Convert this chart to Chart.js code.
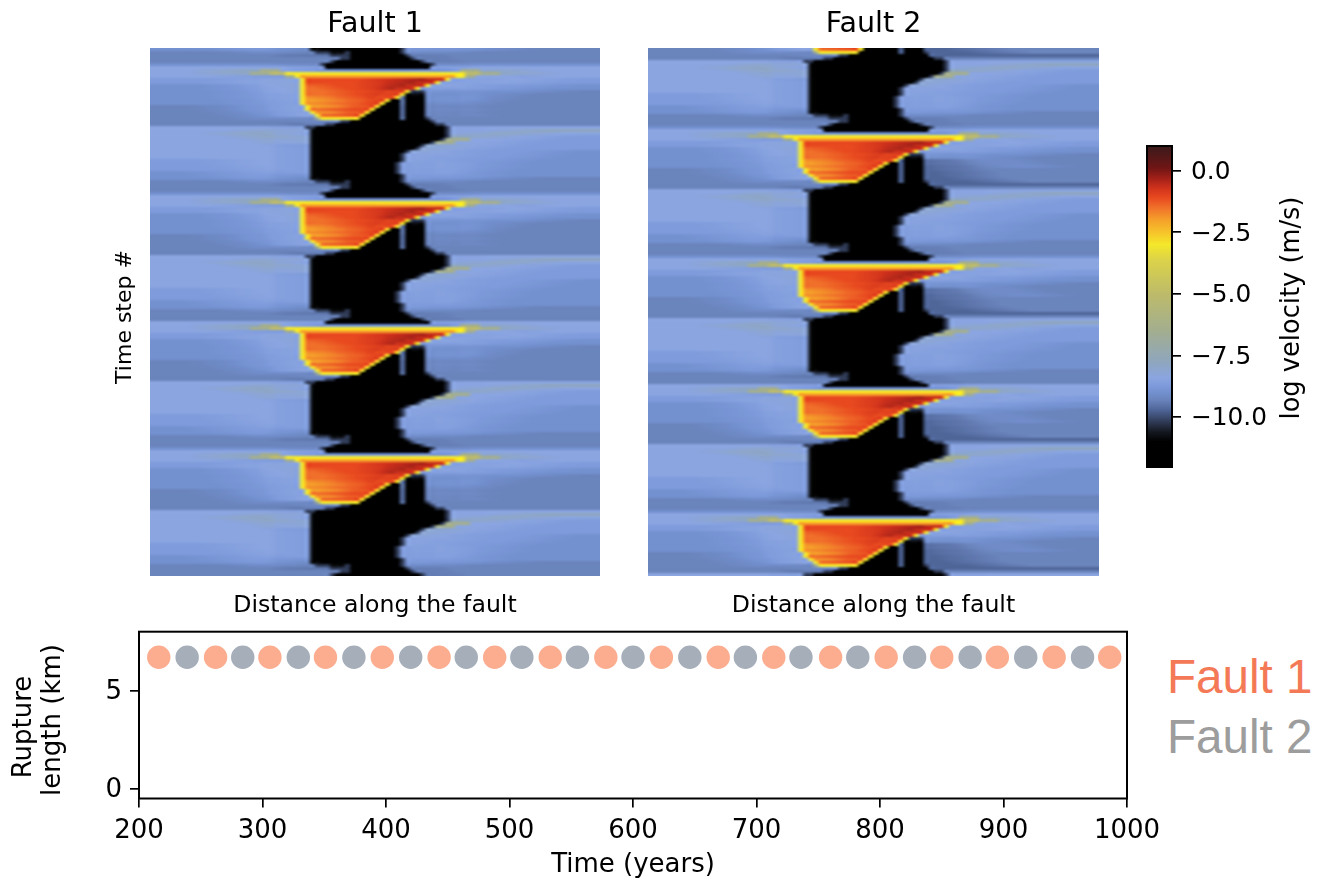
<!DOCTYPE html>
<html>
<head>
<meta charset="utf-8">
<title>Fault velocity</title>
<script src="https://cdn.jsdelivr.net/npm/chart.js@4"></script>
<style>
    body { margin: 0; background: #fff; width: 1320px; height: 881px; overflow: hidden; position: relative; }
    canvas { position: absolute; }
    .key { position: absolute; left: 1167px; font: 47.6px 'Liberation Sans'; line-height: 54px; }
</style>
</head>
<body>
<canvas id="fault1" style="left:112px;top:0" width="498" height="620"></canvas>
<canvas id="fault2" style="left:648px;top:0" width="460" height="620"></canvas>
<canvas id="colorbar" style="left:1130px;top:130px" width="190" height="350"></canvas>
<canvas id="rupture" style="left:0;top:620px" width="1165" height="261"></canvas>
<div class="key" style="top:650px;color:#f47a57">Fault 1</div>
<div class="key" style="top:710px;color:#9d9d9d">Fault 2</div>
<script>
// colour map
const colorbarValues = [-12.03, -11, -10.6, -10.2, -9.7, -9.3, -9, -8.7, -8.4, -7.8, -6.5, -5, -3.6, -3, -2.5, -2, -1.5, -1.1, -0.7, -0.3, 0.1, 1];
const colorbarColors = ['#000000', '#000000', '#14181f', '#2f3a55', '#4f6699', '#6a84bc', '#7390cf', '#7f9bdb', '#8aa5e0', '#8ea6bf', '#a3ae8f', '#bdbb6a', '#dcd348', '#f4e82a', '#f6c32a', '#f5a02a', '#f0702a', '#e8491f', '#cf321c', '#a02018', '#701515', '#3a1a1a'];
const colorbarTicks = [-10, -7.5, -5, -2.5, 0];

// log velocity levels used in the rows below
const levelCodes = ['B', 'K', 'N', 'D', 'c', 'b', 'a', 'l', 'g', 'h', 'p', 'y', 'o', 'f', 'r', 'e', 'd', 'm'];
const levelValues = [-11.6, -10.8, -10.2, -9.7, -9.3, -9, -8.7, -8.4, -7.8, -6.5, -5, -3, -2, -1.5, -1.1, -0.7, -0.3, 0.1];

// one earthquake cycle, one row per time step, each piece is level + end column
const cycleRows = [
    'l33 c35 B56 c58 l90',
    'l14 g22 h26 g29 a32 b58 a62 h66 g72 l90',
    'l14 g20 h24 p27 y63 p66 h70 g76 l90',
    'l18 a27 h29 y30 o61 y63 h65 g68 a74 l90',
    'a18 l26 a28 g30 y31 r45 e52 d58 o59 y60 g61 a66 l80 a90',
    'a16 l26 a28 g30 y31 r44 e50 d56 o57 y58 g59 a64 l76 a90',
    'b16 a22 l28 g30 y31 f34 r44 e49 d54 o55 y56 g57 l64 a80 b90',
    'b16 a24 l28 g30 y31 f36 r44 e48 d52 o53 y54 b56 l62 a74 b90',
    'b18 a24 l28 g30 y31 f38 r46 e50 o51 y52 N55 c57 a62 b80 c90',
    'b18 a26 l29 g30 y31 f38 r45 e49 o50 y51 K55 D56 b58 a60 b72 c90',
    'b18 a26 l29 g30 y31 o34 f40 r46 e48 o49 y50 D51 B55 D56 b58 a62 b70 c90',
    'b20 a27 l29 g30 y31 o36 f42 r46 e47 y48 B50 D51 B55 D56 b58 a62 b68 c90',
    'b20 a28 l29 g30 y31 o34 f41 r45 e46 y47 B50 D51 B55 D56 b66 c90',
    'c14 b22 a29 g31 y32 o37 f41 r45 y46 B50 D51 B55 D56 c58 b62 c90',
    'c14 b22 a29 g31 y32 f37 r44 y45 B50 D51 B55 D56 c58 b64 c90',
    'c16 b24 a30 g32 y33 o36 f40 r43 y44 B50 D51 B55 D56 c58 b62 c90',
    'c18 b26 a30 g33 y34 f38 r42 y43 B50 D51 B55 D56 c60 b64 c90',
    'c20 b28 c33 h34 y42 B50 D51 B55 N56 c90',
    'c34 b38 N40 B56 N57 c90',
    'c32 D35 N37 B57 N59 c90',
    'l30 D31 N33 B59 N60 a62 l90',
    'l22 g28 l30 a31 D32 K33 B59 N60 a61 l74 g90',
    'l16 g26 l30 b31 D32 K33 B59 N60 a62 l66 g76 l90',
    'l20 g30 b31 D32 K33 B59 N60 g68 l80 a90',
    'l24 g30 b31 D32 K33 B58 N59 h64 l76 a90',
    'l26 g30 a31 D32 K33 B56 N57 h61 l72 a90',
    'l28 a30 b31 D32 K33 B54 N55 g59 l70 a90',
    'l30 b31 D32 K33 B53 N54 g57 l66 a90',
    'l30 b31 D32 K33 B51 N52 g54 l62 a80 b90',
    'l30 b31 D32 K33 B50 N51 a53 l62 a78 b90',
    'l30 b31 D32 K33 B50 N51 a53 l60 a76 b90',
    'a16 l30 b31 D32 K33 B50 N51 a52 l58 a72 b90',
    'a16 l30 b31 D32 K33 B49 N50 D51 a52 l60 a70 b90',
    'a18 l30 b31 D32 K33 B49 N50 D51 a52 l60 a70 b90',
    'a20 l30 b31 D32 K33 B49 N50 D51 a53 l60 a68 b90',
    'b12 a24 l30 b31 D32 K33 B49 N50 D51 a53 l60 a66 b90',
    'b14 a30 c31 D32 K33 B50 N51 a66 b90',
    'b18 a28 c30 D32 K34 B50 N51 b54 a60 b72 c90',
    'c20 b28 c31 D33 N36 K39 N40 B50 N51 c54 b60 c90',
    'c30 D34 c36 N40 B51 N52 D54 c90',
    'c38 N40 B52 N53 D55 c90',
    'c36 N37 B54 N55 D57 c90',
    'b30 c34 N35 B56 N57 c60 b90'
];

// Fault 2 is darker east of the locked patch during these steps of the cycle
const fault2EastRows = {
    10: 'D60 c66 b74 c90',
    11: 'D60 c68 b76 c90',
    12: 'D62 c70 b80 c90',
    13: 'D62 c90',
    14: 'D64 c90',
    15: 'D64 c90',
    16: 'D66 c90',
    17: 'D70 c90',
    18: 'D90'
};
const fault2EastFrom = 56;

// time step where each rupture starts
const fault1Starts = [-35, 8, 51, 93, 136];
const fault2Starts = [-14, 29, 72, 114, 157];
const columnCount = 90;
const stepCount = 176;

// rupture catalogue
const fault1Times = [216, 262, 306, 351, 397, 443, 488, 533, 578, 623, 669, 714, 760, 805, 850, 895, 941, 986];
const fault1Lengths = [6.7, 6.7, 6.7, 6.7, 6.7, 6.7, 6.7, 6.7, 6.7, 6.7, 6.7, 6.7, 6.7, 6.7, 6.7, 6.7, 6.7, 6.7];
const fault2Times = [239, 284, 329, 374, 420, 465, 510, 555, 600, 646, 691, 736, 782, 828, 873, 918, 964];
const fault2Lengths = [6.7, 6.7, 6.7, 6.7, 6.7, 6.7, 6.7, 6.7, 6.7, 6.7, 6.7, 6.7, 6.7, 6.7, 6.7, 6.7, 6.7];

const fontName = "'DejaVu Sans'";
Chart.defaults.font.family = fontName;
Chart.defaults.color = '#000';
Chart.defaults.animation = false;

const hexToRgb = (hex) => [1, 3, 5].map((i) => parseInt(hex.slice(i, i + 2), 16));

const colorFor = (v) => {
    const n = colorbarValues.length;
    if (v <= colorbarValues[0]) return hexToRgb(colorbarColors[0]);
    if (v >= colorbarValues[n - 1]) return hexToRgb(colorbarColors[n - 1]);
    let i = 1;
    while (colorbarValues[i] < v) i++;
    const t = (v - colorbarValues[i - 1]) / (colorbarValues[i] - colorbarValues[i - 1]);
    const a = hexToRgb(colorbarColors[i - 1]);
    const b = hexToRgb(colorbarColors[i]);
    return a.map((c, k) => c + (b[k] - c) * t);
};

const fillRow = (text, from, row) => {
    let col = from;
    text.split(' ').forEach((piece) => {
        const value = levelValues[levelCodes.indexOf(piece[0])];
        const end = parseInt(piece.slice(1));
        for (; col < end; col++) row[col] = value;
    });
};

const buildCells = (starts, eastRows) => {
    const grid = [];
    starts.forEach((start) => {
        cycleRows.forEach((text, i) => {
            const r = start - 2 + i;
            if (r < 0 || r >= stepCount) return;
            const row = new Array(columnCount);
            fillRow(text, 0, row);
            if (eastRows[i]) fillRow(eastRows[i], fault2EastFrom, row);
            grid[r] = row;
        });
    });
    const cells = [];
    grid.forEach((row, y) => row.forEach((v, x) => cells.push({ x, y, v })));
    return cells;
};

// imshow style softening, only along a row and only inside the blue or the red part
const softGroup = (v) => {
    if (v >= -9.8 && v <= -7.5) return 1;
    if (v >= -2.1 && v <= 0.2) return 2;
    return 0;
};
const softenRow = (row) => row.map((v, col) => {
    const group = softGroup(v);
    if (!group) return v;
    const reach = group === 1 ? 6 : 3;
    let sum = 0;
    let n = 0;
    for (let k = col - reach; k <= col + reach; k++) {
        if (k < 0 || k >= row.length || softGroup(row[k]) !== group) continue;
        sum += row[k];
        n++;
    }
    return sum / n;
});

// draws the dataset cells as an image, like imshow
const heatmapPlugin = {
    id: 'heatmap',
    beforeDatasetsDraw(chart) {
        const off = document.createElement('canvas');
        off.width = columnCount;
        off.height = stepCount;
        const offCtx = off.getContext('2d');
        const img = offCtx.createImageData(columnCount, stepCount);
        const rows = [];
        chart.data.datasets[0].data.forEach((cell) => {
            rows[cell.y] = rows[cell.y] || [];
            rows[cell.y][cell.x] = cell.v;
        });
        rows.forEach((row, y) => {
            softenRow(row).forEach((v, x) => {
                const c = colorFor(v);
                const p = (y * columnCount + x) * 4;
                img.data[p] = c[0];
                img.data[p + 1] = c[1];
                img.data[p + 2] = c[2];
                img.data[p + 3] = 255;
            });
        });
        offCtx.putImageData(img, 0, 0);
        const { x, y } = chart.scales;
        const left = x.getPixelForValue(0);
        const top = y.getPixelForValue(0);
        const ctx = chart.ctx;
        ctx.save();
        ctx.imageSmoothingEnabled = true;
        ctx.imageSmoothingQuality = 'high';
        ctx.drawImage(off, left, top, x.getPixelForValue(columnCount) - left, y.getPixelForValue(stepCount) - top);
        ctx.restore();
    },
};

const rotatedLabel = {
    id: 'rotatedLabel',
    afterDraw(chart, args, opts) {
        (opts.lines || []).forEach((line) => {
            const ctx = chart.ctx;
            ctx.save();
            ctx.translate(line.x, line.y);
            ctx.rotate(-Math.PI / 2);
            ctx.font = line.size + 'px ' + fontName;
            ctx.fillStyle = '#000';
            ctx.textAlign = 'center';
            ctx.textBaseline = 'middle';
            ctx.fillText(line.text, 0, 0);
            ctx.restore();
        });
    },
};

const frame = {
    id: 'frame',
    afterDraw(chart, args, opts) {
        if (!opts.on) return;
        const a = chart.chartArea;
        chart.ctx.save();
        chart.ctx.strokeStyle = '#000';
        chart.ctx.lineWidth = 2;
        chart.ctx.strokeRect(a.left, a.top, a.right - a.left, a.bottom - a.top);
        chart.ctx.restore();
    },
};

const makeFault = (id, title, cells, axisWidth, lines) => new Chart(document.getElementById(id), {
    type: 'scatter',
    data: { datasets: [{ data: cells, pointRadius: 0 }] },
    options: {
        responsive: false,
        events: [],
        layout: { padding: { left: 0, right: id === 'fault1' ? 10 : 9, top: 0, bottom: 0 } },
        plugins: {
            legend: { display: false },
            tooltip: { enabled: false },
            title: {
                display: true,
                fullSize: false,
                text: title,
                color: '#000',
                font: { size: 28.5, weight: 'normal' },
                padding: { top: 7, bottom: 6.8 },
            },
            rotatedLabel: { lines },
        },
        scales: {
            x: {
                type: 'linear',
                min: 0,
                max: columnCount,
                grid: { display: false },
                border: { display: false },
                ticks: { display: false },
                title: { display: true, text: 'Distance along the fault', color: '#000', font: { size: 23.6 }, padding: 0 },
                afterFit(scale) { scale.height = 44; },
            },
            y: {
                type: 'linear',
                reverse: true,
                min: 0,
                max: stepCount,
                display: axisWidth > 0,
                grid: { display: false },
                border: { display: false },
                ticks: { display: false },
                afterFit(scale) { scale.width = axisWidth; },
            },
        },
    },
    plugins: [heatmapPlugin, rotatedLabel],
});

makeFault('fault1', 'Fault 1', buildCells(fault1Starts, {}), 38, [{ text: 'Time step #', x: 13, y: 317, size: 22 }]);
makeFault('fault2', 'Fault 2', buildCells(fault2Starts, fault2EastRows), 0, []);

// colour bar
new Chart(document.getElementById('colorbar'), {
    type: 'bar',
    data: { labels: [''], datasets: [{ data: [null] }] },
    options: {
        responsive: false,
        events: [],
        layout: { padding: { left: 17, top: 16, bottom: 13 } },
        plugins: {
            legend: { display: false },
            tooltip: { enabled: false },
            frame: { on: true },
            rotatedLabel: { lines: [{ text: 'log velocity (m/s)', x: 162, y: 178, size: 25.7 }] },
        },
        scales: {
            x: { display: false },
            y: {
                position: 'right',
                min: colorbarValues[0],
                max: colorbarValues[colorbarValues.length - 1],
                afterBuildTicks(scale) { scale.ticks = colorbarTicks.map((value) => ({ value })); },
                grid: { drawOnChartArea: false, tickLength: 9, tickColor: '#000', lineWidth: 1.7 },
                border: { display: false },
                ticks: {
                    padding: 10,
                    labelOffset: 2,
                    color: '#000',
                    font: { size: 24.8 },
                    callback: (v) => v.toFixed(1).replace('-', '\u2212'),
                },
                afterFit(scale) {
                    scale.width = 148;
                    scale.paddingTop = 0;
                    scale.paddingBottom = 0;
                },
            },
        },
    },
    plugins: [{
        id: 'ramp',
        beforeDatasetsDraw(chart) {
            const { chartArea: a, scales: { y } } = chart;
            const grad = chart.ctx.createLinearGradient(0, y.getPixelForValue(y.min), 0, y.getPixelForValue(y.max));
            colorbarValues.forEach((v, i) => {
                grad.addColorStop((v - y.min) / (y.max - y.min), colorbarColors[i]);
            });
            chart.ctx.fillStyle = grad;
            chart.ctx.fillRect(a.left, a.top, a.right - a.left, a.bottom - a.top);
        },
    }, frame, rotatedLabel],
});

// rupture length panel
new Chart(document.getElementById('rupture'), {
    type: 'scatter',
    data: {
        datasets: [
            {
                label: 'Fault 1',
                data: fault1Times.map((x, i) => ({ x, y: fault1Lengths[i] })),
                backgroundColor: '#fcad90',
                borderWidth: 0,
                pointRadius: 11.7,
            },
            {
                label: 'Fault 2',
                data: fault2Times.map((x, i) => ({ x, y: fault2Lengths[i] })),
                backgroundColor: '#a5aeb9',
                borderWidth: 0,
                pointRadius: 11.7,
            },
        ],
    },
    options: {
        responsive: false,
        events: [],
        layout: { padding: { right: 38, top: 11.5 } },
        plugins: {
            legend: { display: false },
            tooltip: { enabled: false },
            frame: { on: true },
            rotatedLabel: {
                lines: [
                    { text: 'Rupture', x: 24, y: 107, size: 26 },
                    { text: 'length (km)', x: 53, y: 100, size: 26 },
                ],
            },
        },
        scales: {
            x: {
                type: 'linear',
                min: 200,
                max: 1000,
                grid: { drawOnChartArea: false, tickLength: 9, tickColor: '#000', lineWidth: 1.7 },
                border: { display: false },
                ticks: { stepSize: 100, maxRotation: 0, padding: 8, color: '#000', font: { size: 26 }, callback: (v) => String(v) },
                title: { display: true, text: 'Time (years)', color: '#000', font: { size: 26 }, padding: 0 },
                afterFit(scale) {
                    scale.height = 82.5;
                    scale.paddingLeft = 0;
                    scale.paddingRight = 0;
                },
            },
            y: {
                type: 'linear',
                min: -0.47,
                max: 8,
                afterBuildTicks(scale) { scale.ticks = [{ value: 0 }, { value: 5 }]; },
                grid: { drawOnChartArea: false, tickLength: 9, tickColor: '#000', lineWidth: 1.7 },
                border: { display: false },
                ticks: { padding: 8, labelOffset: 1.5, color: '#000', font: { size: 26 } },
                afterFit(scale) {
                    scale.width = 139;
                    scale.paddingTop = 0;
                    scale.paddingBottom = 0;
                },
            },
        },
    },
    plugins: [frame, rotatedLabel],
});
</script>
</body>
</html>
